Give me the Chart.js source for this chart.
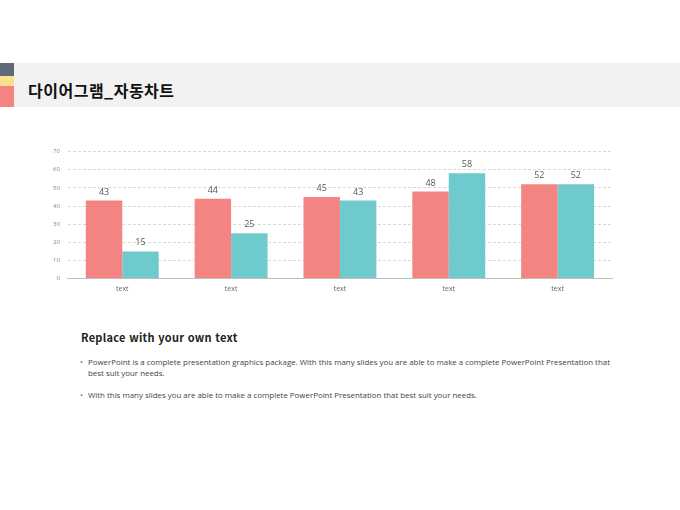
<!DOCTYPE html>
<html lang="ko">
<head>
    <meta charset="UTF-8">
    <title>다이어그램_자동차트</title>
    <script src="https://cdn.jsdelivr.net/npm/chart.js"></script>
    <style>
        body { margin: 0; width: 680px; height: 510px; background: #fff; position: relative; overflow: hidden; font-family: "Noto Sans CJK KR", "Noto Sans", sans-serif; }
        .band { position: absolute; left: 14px; top: 63px; width: 666px; height: 44px; background: #f2f2f2; }
        .s1 { position: absolute; left: 0; top: 63px; width: 14px; height: 13px; background: #5f6a78; }
        .s2 { position: absolute; left: 0; top: 76px; width: 14px; height: 10px; background: #fde08c; }
        .s3 { position: absolute; left: 0; top: 86px; width: 14px; height: 21px; background: #f48481; }
        .title { position: absolute; left: 28px; top: 78px; font-size: 16px; font-weight: bold; color: #111; letter-spacing: 0.5px; }
        #wrap { position: absolute; left: 45px; top: 140px; width: 571px; height: 159px; }
        h3 { position: absolute; left: 81px; top: 329px; margin: 0; font-size: 11px; font-weight: bold; color: #222; letter-spacing: 0.3px; }
        ul { position: absolute; left: 88px; top: 357px; width: 530px; margin: 0; padding: 0; list-style: none; font-family: "Open Sans", sans-serif; font-size: 7.9px; color: #444; line-height: 11px; }
        li { margin-bottom: 11px; position: relative; }
        li::before { content: "•"; position: absolute; left: -8px; color: #777; }
    </style>
</head>
<body>
    <div class="band"></div>
    <div class="s1"></div><div class="s2"></div><div class="s3"></div>
    <div class="title">다이어그램_자동차트</div>
    <div id="wrap"><canvas id="chart"></canvas></div>
    <h3>Replace with your own text</h3>
    <ul>
        <li>PowerPoint is a complete presentation graphics package. With this many slides you are able to make a complete PowerPoint Presentation that best suit your needs.</li>
        <li>With this many slides you are able to make a complete PowerPoint Presentation that best suit your needs.</li>
    </ul>

    <script>
        // 차트 데이터
        const categories = ['text', 'text', 'text', 'text', 'text'];
        const series1 = [43, 44, 45, 48, 52];
        const series2 = [15, 25, 43, 58, 52];
        const yTicks = [0, 10, 20, 30, 40, 50, 60, 70];

        // 막대 위 값 표시
        const valueLabels = {
            id: 'valueLabels',
            afterDatasetsDraw(chart) {
                const ctx = chart.ctx;
                ctx.save();
                ctx.font = '9px "Open Sans", sans-serif';
                ctx.fillStyle = '#595959';
                ctx.textAlign = 'center';
                ctx.textBaseline = 'bottom';
                chart.data.datasets.forEach((ds, i) => {
                    chart.getDatasetMeta(i).data.forEach((bar, j) => {
                        ctx.fillText(ds.data[j], bar.x, bar.y - 4);
                    });
                });
                ctx.restore();
            }
        };

        new Chart(document.getElementById('chart'), {
            type: 'bar',
            data: {
                labels: categories,
                datasets: [
                    { label: '계열 1', data: series1, backgroundColor: '#f48481' },
                    { label: '계열 2', data: series2, backgroundColor: '#6fcacd' }
                ]
            },
            options: {
                responsive: true,
                maintainAspectRatio: false,
                animation: false,
                categoryPercentage: 0.67,
                barPercentage: 1.0,
                layout: { padding: { top: 4, right: 4 } },
                plugins: { legend: { display: false }, tooltip: { enabled: false } },
                scales: {
                    x: {
                        grid: { display: false, drawTicks: false },
                        border: { color: '#bfbfbf' },
                        ticks: { color: '#666', font: { size: 7, family: '"Open Sans", sans-serif' }, padding: 6 }
                    },
                    y: {
                        min: 0, max: 70,
                        afterBuildTicks: axis => { axis.ticks = yTicks.map(v => ({ value: v })); },
                        grid: { color: '#d9d9d9', drawTicks: false },
                        border: { display: false, dash: [3, 2] },
                        ticks: { color: '#888', font: { size: 6, family: '"Open Sans", sans-serif' }, padding: 8 }
                    }
                }
            },
            plugins: [valueLabels]
        });
    </script>
</body>
</html>
